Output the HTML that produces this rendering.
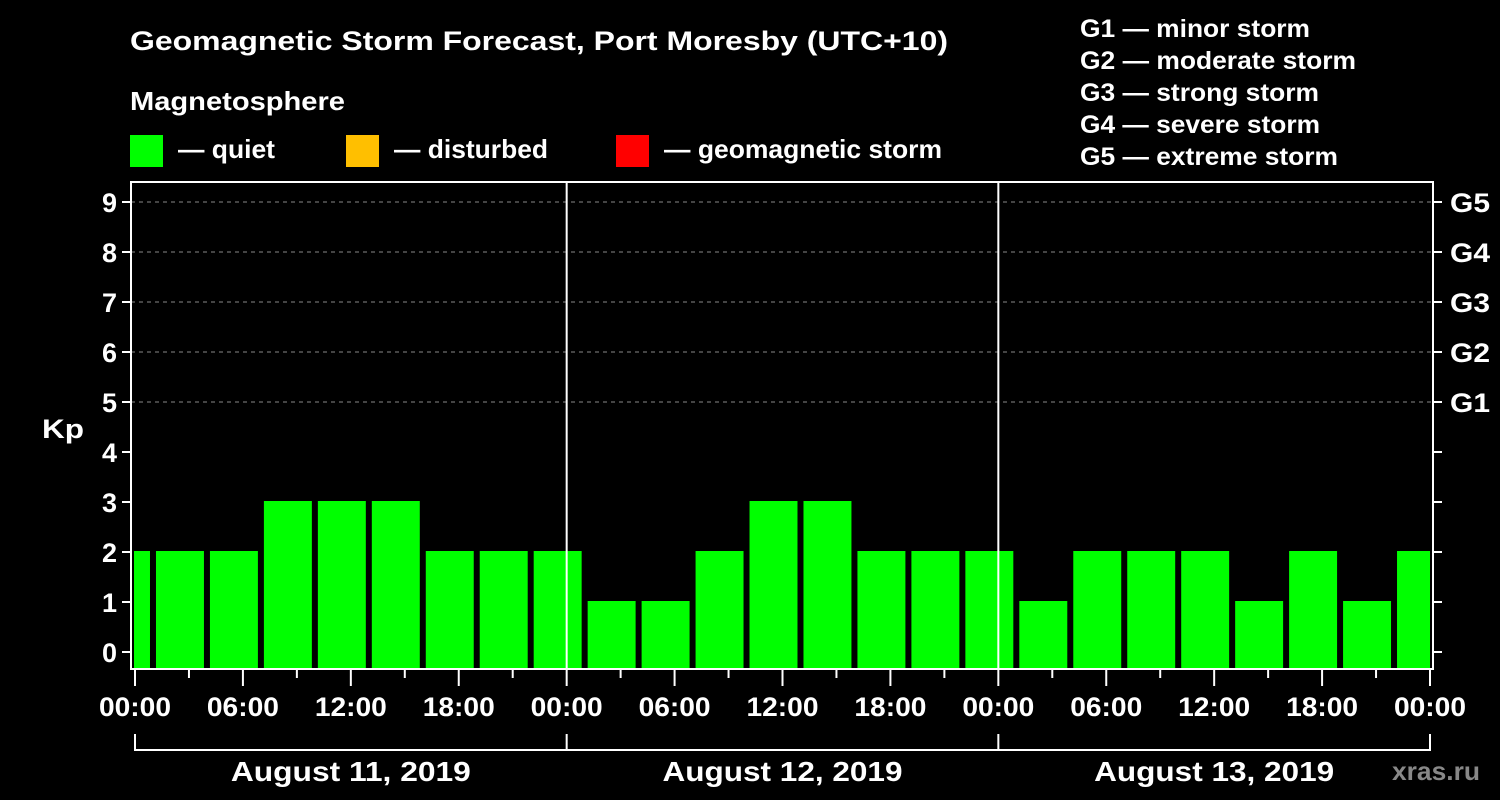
<!DOCTYPE html>
<html><head><meta charset="utf-8"><style>
html,body{margin:0;padding:0;background:#000;}
svg{display:block;font-family:"Liberation Sans",sans-serif;font-weight:bold;}
</style></head><body>
<svg id="chart" width="1500" height="800" viewBox="0 0 1500 800">
<rect width="1500" height="800" fill="#000"/>
<text x="130" y="50" fill="#fff" font-size="27" textLength="818" lengthAdjust="spacingAndGlyphs">Geomagnetic Storm Forecast, Port Moresby (UTC+10)</text>
<text x="130" y="110" fill="#fff" font-size="26" textLength="215" lengthAdjust="spacingAndGlyphs">Magnetosphere</text>
<g><rect x="130" y="135" width="33" height="32" fill="#00ff00"/><text x="178" y="158" fill="#fff" font-size="26" textLength="97" lengthAdjust="spacingAndGlyphs">— quiet</text></g>
<g><rect x="346" y="135" width="33" height="32" fill="#ffbf00"/><text x="394" y="158" fill="#fff" font-size="26" textLength="154" lengthAdjust="spacingAndGlyphs">— disturbed</text></g>
<g><rect x="616" y="135" width="33" height="32" fill="#ff0000"/><text x="664" y="158" fill="#fff" font-size="26" textLength="278" lengthAdjust="spacingAndGlyphs">— geomagnetic storm</text></g>
<g fill="#fff" font-size="25" lengthAdjust="spacingAndGlyphs">
<text x="1080" y="37" textLength="230" lengthAdjust="spacingAndGlyphs">G1 — minor storm</text>
<text x="1080" y="69" textLength="276" lengthAdjust="spacingAndGlyphs">G2 — moderate storm</text>
<text x="1080" y="101" textLength="239" lengthAdjust="spacingAndGlyphs">G3 — strong storm</text>
<text x="1080" y="133" textLength="240" lengthAdjust="spacingAndGlyphs">G4 — severe storm</text>
<text x="1080" y="165" textLength="258" lengthAdjust="spacingAndGlyphs">G5 — extreme storm</text>
</g>
<text x="42" y="438" fill="#fff" font-size="27" textLength="42" lengthAdjust="spacingAndGlyphs">Kp</text>
<text x="1392" y="780" fill="#888" font-size="26" textLength="88" lengthAdjust="spacingAndGlyphs">xras.ru</text>
<g id="grid"></g><g id="bars"></g><g id="axes"></g>
</svg>
<script>
const kpValues = [2,2,2,3,3,3,2,2,2,1,1,2,3,3,2,2,2,1,2,2,2,1,2,1,2];
const barHours = [-0.5,2.5,5.5,8.5,11.5,14.5,17.5,20.5,23.5,26.5,29.5,32.5,35.5,38.5,41.5,44.5,47.5,50.5,53.5,56.5,59.5,62.5,65.5,68.5,71.5];
const yTicks = [0,1,2,3,4,5,6,7,8,9];
const gLabels = ["","","","","","G1","G2","G3","G4","G5"];
const timeLabels = ["00:00","06:00","12:00","18:00"];
const dayLabels = ["August 11, 2019","August 12, 2019","August 13, 2019"];
const NS="http://www.w3.org/2000/svg";
const X0=135,X1=1430,H=72,L=131,R=1433,T=182,B=669;
const x=h=>X0+(X1-X0)*h/H;
const y=v=>652-50*v;
function mk(tag,attrs,parent,text){const e=document.createElementNS(NS,tag);for(const k in attrs)e.setAttribute(k,attrs[k]);if(text!==undefined)e.textContent=text;parent.appendChild(e);return e;}
const grid=document.getElementById('grid'),bars=document.getElementById('bars'),axes=document.getElementById('axes');
yTicks.forEach((v,i)=>{
  if(v>=5){const g=mk('line',{x1:L,x2:R,y1:y(v),y2:y(v),stroke:'#888','stroke-dasharray':'4,4','stroke-width':1},grid);
  
  }
  const t=mk('line',{x1:122,x2:L,y1:y(v),y2:y(v),stroke:'#fff','stroke-width':2},axes);
  
  
  const lb=mk('text',{x:117,y:y(v)+10,fill:'#fff','font-size':27,'text-anchor':'end'},axes,String(v));
  
  
  const rt=mk('line',{x1:R,x2:1442,y1:y(v),y2:y(v),stroke:'#fff','stroke-width':2},axes);
  
  
  if(gLabels[i]){const gl=mk('text',{x:1450,y:y(v)+10,fill:'#fff','font-size':27,textLength:40,lengthAdjust:'spacingAndGlyphs'},axes,gLabels[i]);
  
  }
});
const colorFor=v=>v>=5?'#ff0000':(v>=4?'#ffbf00':'#00ff00');
kpValues.forEach((v,i)=>{
  const c=barHours[i];let a=x(c-1.5)+3,b=x(c+1.5)-3;
  a=Math.max(a,L+3);b=Math.min(b,R-3);
  const r=mk('rect',{x:a,y:y(v)-1,width:b-a,height:B-(y(v)-1),fill:colorFor(v)},bars);
  
  
});
[1,2].forEach(d=>{const l=mk('line',{x1:x(24*d),x2:x(24*d),y1:T,y2:B,stroke:'#fff','stroke-width':2},axes);
  
  });
const fr=mk('rect',{x:L,y:T,width:R-L,height:B-T,fill:'none',stroke:'#fff','stroke-width':2},axes);


for(let h=0;h<=H;h+=3){
  const major=h%6===0;
  const t=mk('line',{x1:x(h),x2:x(h),y1:B,y2:B+(major?17:9),stroke:'#fff','stroke-width':2},axes);
  
  
  if(major){const lb=mk('text',{x:x(h),y:716,fill:'#fff','font-size':27,'text-anchor':'middle',textLength:72,lengthAdjust:'spacingAndGlyphs'},axes,timeLabels[(h/6)%4]);
  
  }
}
const br=mk('path',{d:'M'+x(0)+' 734 V750 H'+x(72)+' V734 M'+x(24)+' 734 V750 M'+x(48)+' 734 V750',stroke:'#fff','stroke-width':2,fill:'none'},axes);


dayLabels.forEach((d,i)=>{const t=mk('text',{x:x(24*i+12),y:781,fill:'#fff','font-size':28,'text-anchor':'middle',textLength:240,lengthAdjust:'spacingAndGlyphs'},axes,d);
  
  });
</script>
</body></html>
